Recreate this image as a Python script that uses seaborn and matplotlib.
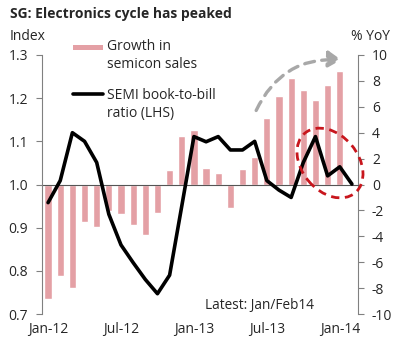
import numpy as np
import pandas as pd
import matplotlib
matplotlib.use("Agg")
import matplotlib.pyplot as plt
import seaborn as sns
from matplotlib.patches import Ellipse, FancyArrowPatch, Rectangle
from matplotlib.lines import Line2D

# ---- data ----
months = ["Jan-12", "Feb-12", "Mar-12", "Apr-12", "May-12", "Jun-12", "Jul-12", "Aug-12",
          "Sep-12", "Oct-12", "Nov-12", "Dec-12", "Jan-13", "Feb-13", "Mar-13", "Apr-13",
          "May-13", "Jun-13", "Jul-13", "Aug-13", "Sep-13", "Oct-13", "Nov-13", "Dec-13",
          "Jan-14", "Feb-14"]
growth = [-8.85, -7.1, -8.03, -2.93, -3.3, -2.08, -2.29, -3.1, -3.88, -2.18, 1.13, 3.76,
          4.2, 1.29, 0.85, -1.82, 1.19, 2.09, 5.1, 6.8, 8.2, 7.29, 6.54, 7.7, 8.8]
book_to_bill = [0.958, 1.009, 1.120, 1.100, 1.051, 0.931, 0.860, 0.819, 0.780, 0.747,
                0.790, 0.950, 1.111, 1.099, 1.111, 1.080, 1.080, 1.100, 1.009, 0.987,
                0.970, 1.051, 1.111, 1.020, 1.041, 1.001]
xtick_labels = ["Jan-12", "Jul-12", "Jan-13", "Jul-13", "Jan-14"]
left_ticks = [0.7, 0.8, 0.9, 1.0, 1.1, 1.2, 1.3]
right_ticks = [-10, -8, -6, -4, -2, 0, 2, 4, 6, 8, 10]
series_names = ["Growth in\nsemicon sales", "SEMI book-to-bill\nratio (LHS)"]

bar_df = pd.DataFrame({"pos": np.arange(len(growth)), "growth": growth})
line_df = pd.DataFrame({"pos": np.arange(len(book_to_bill)), "ratio": book_to_bill})

sns.set_style("white")
plt.rcParams["font.family"] = ["Open Sans", "DejaVu Sans"]
plt.rcParams["axes.unicode_minus"] = False

BAR = "#E4A0A5"
GRAY = "#808080"
LINE_W = 2.6

fig = plt.figure(figsize=(4.04, 3.5), dpi=100)
ax = fig.add_axes([42 / 404, 1 - 314 / 350, 316 / 404, 259 / 350])
ax2 = ax.twinx()

sns.barplot(data=bar_df, x="pos", y="growth", native_scale=True, color=BAR,
            saturation=1, width=0.6, ax=ax, legend=False)
sns.lineplot(data=line_df, x="pos", y="ratio", color="black", lw=LINE_W, ax=ax2,
             legend=False)
if ax.get_legend() is not None:
    ax.get_legend().remove()

ax.set_xlim(-0.5, len(months) - 0.5)
ax.set_ylim(-10, 10)
ax2.set_ylim(0.7, 1.3)

# right axis (% YoY) on ax, left axis (Index) on ax2
ax.yaxis.tick_right()
ax2.yaxis.tick_left()
ax.set_yticks(right_ticks)
ax.set_yticklabels([str(t) for t in right_ticks])
ax2.set_yticks(left_ticks)
ax2.set_yticklabels([f"{t:.1f}" for t in left_ticks])
for a in (ax, ax2):
    a.set_xlabel("")
    a.set_ylabel("")

for s in ["top", "left"]:
    ax.spines[s].set_visible(False)
ax.spines["right"].set_color(GRAY)
ax.spines["bottom"].set_position(("data", 0))
ax.spines["bottom"].set_color("#555555")
for s in ["top", "right", "bottom"]:
    ax2.spines[s].set_visible(False)
ax2.spines["left"].set_color(GRAY)

label_pos = [months.index(m) for m in xtick_labels]
ax.set_xticks(label_pos)
ax.set_xticklabels(xtick_labels)
ax.set_xticks([p - 0.5 for p in label_pos], minor=True)
ax.tick_params(axis="x", which="major", length=0, labelbottom=False)
ax.tick_params(axis="x", which="minor", length=4, color="#555555", direction="out")
ax2.xaxis.set_visible(True)
ax2.tick_params(axis="x", which="major", length=0, labelbottom=True, bottom=True,
                labelsize=10, pad=6)
ax2.tick_params(axis="x", which="minor", length=0)
ax.tick_params(axis="y", length=4, color=GRAY, labelsize=10, pad=6)
ax2.tick_params(axis="y", length=4, color=GRAY, labelsize=10, pad=6)

# titles
fig.text(10 / 404, 1 - 14 / 350, "SG: Electronics cycle has peaked", fontsize=10,
         fontweight="bold", va="center", ha="left")
fig.text(10 / 404, 1 - 37 / 350, "Index", fontsize=10, va="center", ha="left")
fig.text(390 / 404, 1 - 37 / 350, "% YoY", fontsize=10, va="center", ha="right")
fig.text(205 / 404, 1 - 305 / 350, "Latest: Jan/Feb14", fontsize=9.8, va="center", ha="left")

# legend (handles aligned with first text line)
fig.add_artist(Rectangle((73 / 404, 1 - 50 / 350), 30 / 404, 5 / 350,
                         facecolor=BAR, edgecolor="none", transform=fig.transFigure))
fig.text(107 / 404, 1 - 39 / 350, series_names[0], fontsize=10, va="top", ha="left",
         linespacing=1.25)
fig.add_artist(Line2D([73 / 404, 103 / 404], [1 - 93.5 / 350, 1 - 93.5 / 350],
                      color="black", lw=LINE_W, transform=fig.transFigure))
fig.text(107 / 404, 1 - 88 / 350, series_names[1], fontsize=10, va="top", ha="left",
         linespacing=1.25)

# annotations
arr = FancyArrowPatch((2.55, 3.50 - 1.13), (3.44, 3.50 - 0.60),
                      connectionstyle="arc3,rad=-0.35",
                      arrowstyle="-|>,head_length=0.55,head_width=0.35",
                      mutation_scale=14, color="#A8A8A8", lw=2.4,
                      linestyle=(0, (3, 2.2)), transform=fig.dpi_scale_trans)
fig.add_artist(arr)
ell = Ellipse((3.30, 3.50 - 1.63), 0.78, 0.56, angle=-50, fill=False,
              edgecolor="#C8161D", lw=2, linestyle=(0, (3, 2)),
              transform=fig.dpi_scale_trans)
fig.add_artist(ell)

fig.savefig("out.png", dpi=100)
